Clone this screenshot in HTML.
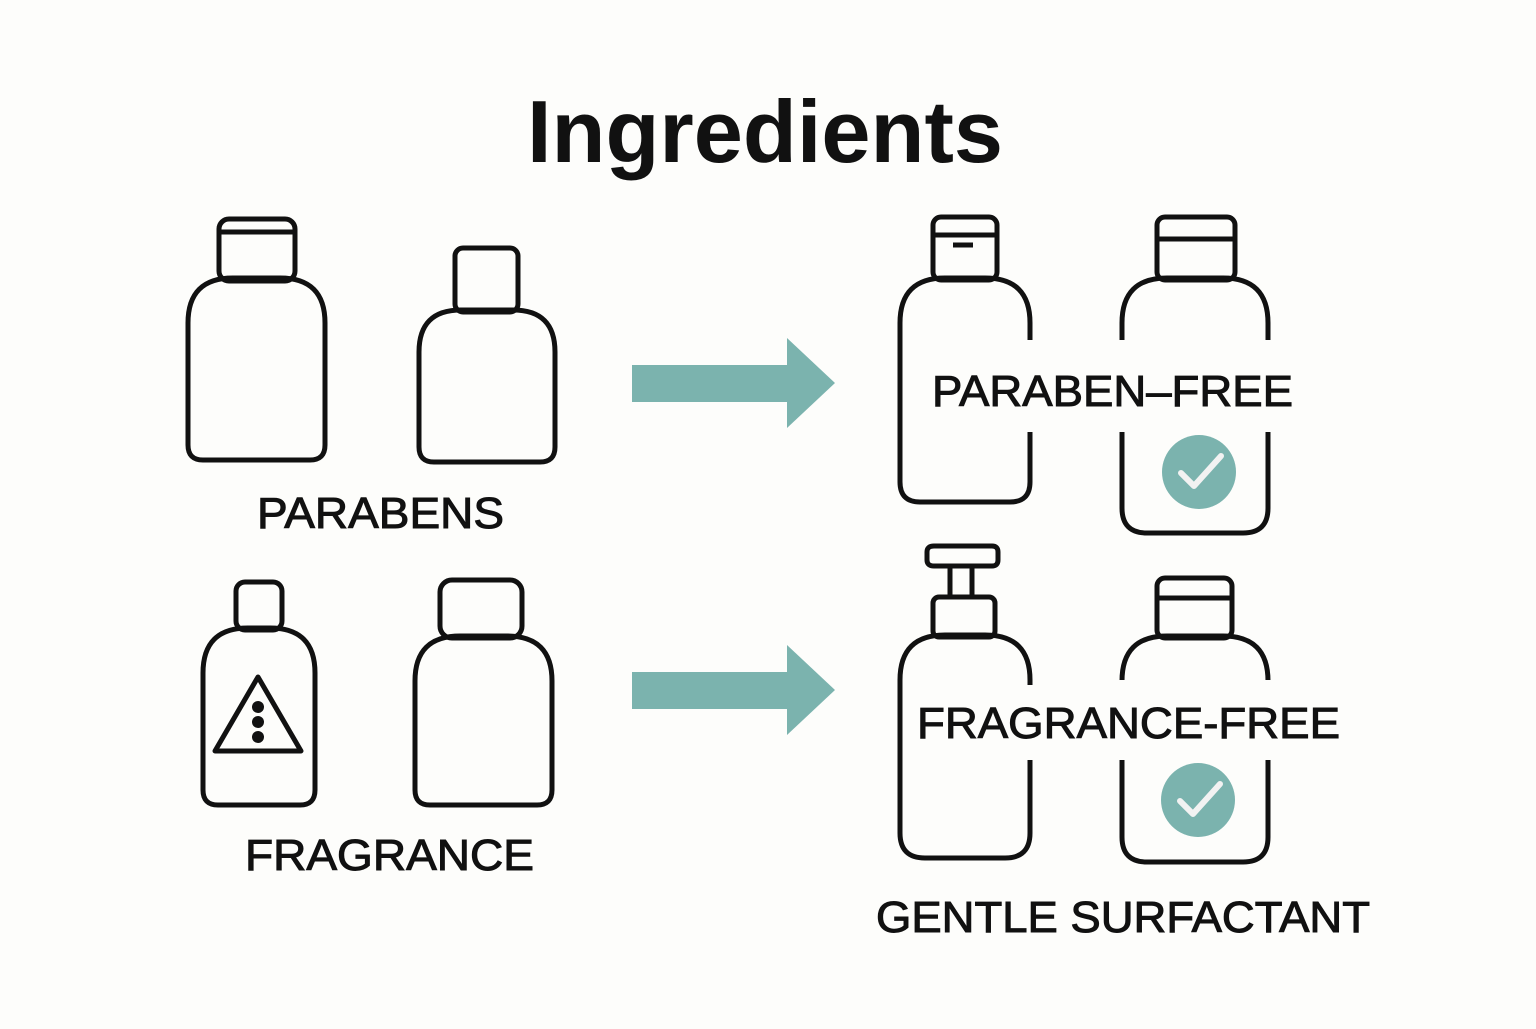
<!DOCTYPE html>
<html><head><style>html,body{margin:0;padding:0;background:#fdfdfb}</style></head><body>
<svg width="1536" height="1024" viewBox="0 0 1536 1024" xmlns="http://www.w3.org/2000/svg">
<rect width="1536" height="1024" fill="#fdfdfb"/>
<text x="527" y="162" font-family="Liberation Sans, sans-serif" font-weight="bold" font-size="88" fill="#111" textLength="476" lengthAdjust="spacingAndGlyphs">Ingredients</text>
<g fill="none" stroke="#111" stroke-width="5" stroke-linejoin="round">
<rect x="219" y="219" width="76" height="62" rx="10"/>
<line x1="221" y1="232" x2="293" y2="232"/>
<path d="M188,445 V323 Q188,278 233,278 H280 Q325,278 325,323 V445 Q325,460 310,460 H203 Q188,460 188,445Z"/>
<rect x="455" y="248" width="63" height="64" rx="8"/>
<path d="M419,447 V352 Q419,310 461,310 H513 Q555,310 555,352 V447 Q555,462 540,462 H434 Q419,462 419,447Z"/>
<rect x="236" y="582" width="46" height="48" rx="9"/>
<path d="M203,790 V673 Q203,628 248,628 H270 Q315,628 315,673 V790 Q315,805 300,805 H218 Q203,805 203,790Z"/>
<path d="M258,677 L301,751 H215 Z"/>
<rect x="440" y="580" width="82" height="58" rx="12"/>
<path d="M415,790 V681 Q415,636 460,636 H507 Q552,636 552,681 V790 Q552,805 537,805 H430 Q415,805 415,790Z"/>
<rect x="933" y="217" width="64" height="63" rx="8"/>
<line x1="935" y1="235" x2="995" y2="235"/>
<line x1="953" y1="245" x2="973" y2="245"/>
<path d="M900,482 V323 Q900,278 945,278 H985 Q1030,278 1030,323 V482 Q1030,502 1010,502 H920 Q900,502 900,482Z"/>
<rect x="1157" y="217" width="78" height="63" rx="8"/>
<line x1="1159" y1="239" x2="1233" y2="239"/>
<path d="M1122,508 V323 Q1122,278 1167,278 H1223 Q1268,278 1268,323 V508 Q1268,533 1243,533 H1147 Q1122,533 1122,508Z"/>
<path d="M927,560 V552 Q927,546 934,546 H992 Q998,546 998,552 V560 Q998,566 992,566 H934 Q927,566 927,560Z"/>
<line x1="950" y1="567" x2="950" y2="597"/>
<line x1="972" y1="567" x2="972" y2="597"/>
<rect x="933" y="597" width="62" height="40" rx="6"/>
<path d="M900,833 V680 Q900,635 945,635 H985 Q1030,635 1030,680 V833 Q1030,858 1005,858 H925 Q900,858 900,833Z"/>
<rect x="1157" y="578" width="75" height="60" rx="8"/>
<line x1="1159" y1="598" x2="1230" y2="598"/>
<path d="M1122,837 V681 Q1122,636 1167,636 H1223 Q1268,636 1268,681 V837 Q1268,862 1243,862 H1147 Q1122,862 1122,837Z"/>
</g>
<g fill="#111"><circle cx="258" cy="707" r="6"/><circle cx="258" cy="722" r="6"/><circle cx="258" cy="737" r="6"/></g>
<g fill="#fdfdfb">
<rect x="1018" y="340" width="24" height="92"/>
<rect x="1110" y="340" width="24" height="92"/><rect x="1256" y="340" width="24" height="92"/>
<rect x="1018" y="685" width="24" height="75"/>
<rect x="1110" y="680" width="24" height="80"/><rect x="1256" y="680" width="24" height="80"/>
</g>
<g fill="#7bb3ae">
<path d="M632,365 H787 V338 L835,383 L787,428 V402 H632Z"/>
<path d="M632,672 H787 V645 L835,690 L787,735 V709 H632Z"/>
<circle cx="1199" cy="472" r="37"/>
<circle cx="1198" cy="800" r="37"/>
</g>
<g fill="none" stroke="#f2f2f2" stroke-width="6" stroke-linecap="round" stroke-linejoin="round">
<path d="M1181,473 L1194,486 L1221,456"/>
<path d="M1180,801 L1193,814 L1220,784"/>
</g>
<g font-family="Liberation Sans, sans-serif" font-size="44" fill="#111" stroke="#111" stroke-width="1">
<text x="257" y="528" textLength="247" lengthAdjust="spacingAndGlyphs">PARABENS</text>
<text x="245" y="870" textLength="289" lengthAdjust="spacingAndGlyphs">FRAGRANCE</text>
<text x="932" y="406" textLength="361" lengthAdjust="spacingAndGlyphs">PARABEN–FREE</text>
<text x="917" y="738" textLength="423" lengthAdjust="spacingAndGlyphs">FRAGRANCE-FREE</text>
<text x="876" y="932" textLength="494" lengthAdjust="spacingAndGlyphs">GENTLE SURFACTANT</text>
</g>
</svg>
</body></html>
